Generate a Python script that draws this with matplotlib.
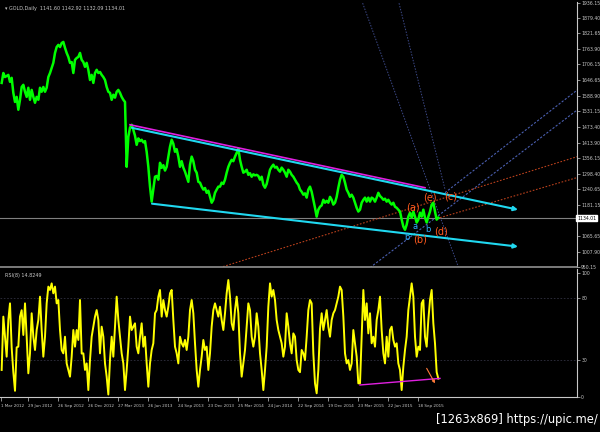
import numpy as np
import matplotlib.pyplot as plt

# GOLD daily closes, one sample every ~3 trading days
close = [1637, 1674, 1659, 1663, 1667, 1641, 1656, 1600, 1566, 1585,
         1537, 1574, 1622, 1630, 1604, 1585, 1619, 1574, 1611, 1585,
         1563, 1585, 1574, 1619, 1604, 1622, 1604, 1619, 1659, 1674,
         1693, 1712, 1749, 1771, 1779, 1771, 1786, 1790, 1768, 1749,
         1734, 1712, 1715, 1674, 1723, 1730, 1734, 1749, 1723, 1715,
         1697, 1712, 1686, 1648, 1667, 1637, 1674, 1686, 1674, 1678,
         1667, 1659, 1648, 1622, 1604, 1600, 1574, 1593, 1582, 1604,
         1611, 1600, 1585, 1574, 1566, 1324, 1436, 1470, 1481, 1462,
         1440, 1406, 1430, 1420, 1425, 1415, 1420, 1380, 1324, 1250,
         1194, 1239, 1287, 1290, 1276, 1339, 1320, 1330, 1310, 1324,
         1362, 1399, 1425, 1410, 1380, 1390, 1362, 1324, 1345, 1321,
         1306, 1287, 1268, 1332, 1362, 1345, 1313, 1302, 1268, 1265,
         1250, 1239, 1245, 1227, 1235, 1212, 1190, 1201, 1227, 1239,
         1250, 1250, 1265, 1260, 1276, 1302, 1324, 1339, 1350, 1345,
         1362, 1376, 1392, 1350, 1324, 1302, 1306, 1313, 1294, 1300,
         1287, 1296, 1292, 1294, 1290, 1276, 1287, 1257, 1246, 1260,
         1287, 1313, 1324, 1332, 1321, 1324, 1313, 1306, 1321, 1313,
         1302, 1287, 1313, 1306, 1294, 1287, 1276, 1265, 1257, 1239,
         1231, 1220, 1225, 1209, 1239, 1250, 1231, 1201, 1171, 1138,
         1164, 1175, 1180, 1201, 1190, 1197, 1190, 1212, 1201, 1183,
         1190, 1212, 1246, 1276, 1294, 1287, 1265, 1239, 1227, 1212,
         1220, 1209, 1190, 1171, 1157, 1164, 1190, 1201, 1209, 1194,
         1209, 1194, 1209, 1205, 1194, 1209, 1227, 1215, 1209, 1201,
         1205, 1194, 1201, 1190, 1183, 1190, 1175, 1171, 1164, 1157,
         1127, 1101, 1089, 1108, 1138, 1153, 1134, 1157, 1138, 1116,
         1127, 1153, 1138, 1164, 1134, 1116, 1138, 1157, 1183, 1190,
         1157, 1127, 1134]

rsi = [21.8, 64.8, 48.6, 32.5, 62.1, 75.5, 40, 20, 5, 40,
       40.6, 64.8, 70, 50, 75.5, 48.6, 19.1, 35.2, 67.5, 48.6,
       37.9, 54.0, 62.1, 80.9, 54.0, 32.5, 48.6, 75.5, 89.0, 86.3,
       91.6, 83.6, 89.0, 75.5, 78.2, 54.0, 37.9, 35.2, 48.6, 27.1,
       21.8, 16.4, 32.5, 54.0, 40.6, 54.0, 46.0, 78.2, 35, 35.2,
       21.8, 27.1, 5.6, 29.8, 48.6, 56.7, 64.8, 70.1, 62.1, 35.2,
       56.7, 48.6, 27.1, 16.4, 2, 30, 48.6, 32.5, 56.7, 80.9,
       62.1, 48.6, 35.2, 27.1, 5.6, 21.8, 40.6, 64.8, 54.0, 56.7,
       59.4, 40.6, 35.2, 48.6, 59.4, 40.6, 48.6, 27.1, 8.3, 27.1,
       37.9, 43.3, 67.5, 70.1, 80.9, 86.3, 64.8, 78.2, 70.1, 64.8,
       72.8, 83.6, 86.3, 62.1, 40.6, 35.2, 27.1, 48.6, 43.3, 40.6,
       46.0, 37.9, 48.6, 70.1, 78.2, 67.5, 43.3, 21.8, 8.3, 21.8,
       32.5, 46.0, 37.9, 40.6, 21.8, 35.2, 56.7, 70.1, 75.5, 70.1,
       64.8, 72.8, 62.1, 54.0, 67.5, 83.6, 94.3, 80.9, 59.4, 54.0,
       70.1, 80.9, 67.5, 35.2, 16.4, 27.1, 37.9, 56.7, 75.5, 70.1,
       48.6, 40.6, 48.6, 67.5, 56.7, 35.2, 21.8, 5.6, 21.8, 40.6,
       72.8, 91.6, 80.9, 86.3, 78.2, 62.1, 54.0, 48.6, 43.3, 32.5,
       40.6, 67.5, 56.7, 43.3, 35.2, 51.3, 48.6, 29.8, 21.8, 20,
       37.9, 35.2, 29.8, 48.6, 70.1, 78.2, 75.5, 35.2, 11.0, 3.0,
       21.8, 55, 67.5, 54.0, 62.1, 70.1, 56.7, 48.6, 62.1, 67.5,
       70.1, 75.5, 80.9, 89.0, 86.3, 65, 35.2, 27.1, 29.8, 21.8,
       27.1, 54.0, 43.3, 32.5, 11.0, 11.0, 48.6, 86.3, 62.1, 75.5,
       51.3, 67.5, 43.3, 48.6, 40.6, 62.1, 70.1, 80.9, 54.0, 35.2,
       27.1, 48.6, 32.5, 54.0, 56.7, 46.0, 40.6, 43.3, 27.1, 21.8,
       5.6, 24.4, 37.9, 48.6, 70.1, 80.9, 91.6, 80.9, 48.6, 32.5,
       40.6, 37.9, 75.5, 78.2, 48.6, 40.6, 62.1, 78.2, 86.3, 59.4,
       43.3, 20, 14.8]

price_ticks = [950.15, 1007.90, 1065.65, 1181.15, 1240.65, 1298.40, 1356.15,
               1413.90, 1473.40, 1531.15, 1588.90, 1646.65, 1706.15, 1763.90,
               1821.65, 1879.40, 1936.15]
date_labels = ['1 Mar 2012', '29 Jun 2012', '26 Sep 2012', '26 Dec 2012',
               '27 Mar 2013', '26 Jun 2013', '24 Sep 2013', '23 Dec 2013',
               '25 Mar 2014', '24 Jun 2014', '22 Sep 2014', '19 Dec 2014',
               '23 Mar 2015', '22 Jun 2015', '18 Sep 2015']
last_price = 1134.01

# trend lines: (x0, p0, x1, p1) in sample / price units
upper_channel = (79.2, 1469.5, 310.8, 1164.0)
upper_magenta = (78.0, 1481.0, 255.0, 1246.0)
lower_channel = (91.2, 1186.4, 310.8, 1026.2)
fan_blue = [(267.0, 1227.4, 348.0, 1618.6), (222.0, 947.9, 348.0, 1544.1)]
fan_orange = [(133.8, 951.6, 348.0, 1365.2), (264.0, 1134.2, 348.0, 1287.0)]
steep_blue = [(217.0, 1945.0, 275.0, 950.0), (239.0, 1945.0, 267.0, 1240.0)]
waves_orange = {'(a)': (247.8, 1173), '(b)': (252.0, 1051), '(c)': (270.6, 1212),
                '(d)': (264.4, 1082), '(e)': (258.0, 1208)}
waves_cyan = {'a': (248.8, 1101), 'b': (244.4, 1060), 'b ': (256.6, 1091)}
rsi_trend = (216.0, 9.7, 264.0, 15.0)

BG = 'black'
FG = '#c8c8c8'
CYAN = '#20d8f0'

fig = plt.figure(figsize=(6, 4.32), dpi=100, facecolor=BG)
ax = fig.add_axes([0, 1 - 267 / 432, 577 / 600, 265 / 432], facecolor=BG)
ax2 = fig.add_axes([0, 1 - 397 / 432, 577 / 600, 128 / 432], facecolor=BG)

x = np.arange(1, len(close) + 1)
xr = np.arange(1, len(rsi) + 1)
xmax = 577 * 0.6

ax.axhline(last_price, color='#808080', lw=0.8)
for x0, p0, x1, p1 in fan_blue:
    ax.plot([x0, x1], [p0, p1], color='#4a5fb0', lw=0.8, ls=(0, (2, 1.5)))
for x0, p0, x1, p1 in steep_blue:
    ax.plot([x0, x1], [p0, p1], color='#3d4a8a', lw=0.7, ls=(0, (1.5, 1.5)))
for x0, p0, x1, p1 in fan_orange:
    ax.plot([x0, x1], [p0, p1], color='#b8401c', lw=0.8, ls=(0, (1.5, 1.5)))

ax.plot(x, close, color='#00ff00', lw=1.8)

ax.plot(upper_magenta[::2], upper_magenta[1::2], color='#e020e0', lw=1.2)
for x0, p0, x1, p1 in (upper_channel, lower_channel):
    ax.annotate('', xy=(x1, p1), xytext=(x0, p0),
                arrowprops=dict(arrowstyle='-|>', color=CYAN, lw=1.5,
                                mutation_scale=6, shrinkA=0, shrinkB=0))

for lab, (lx, ly) in waves_orange.items():
    ax.text(lx, ly, lab, color='#ff5a1e', fontsize=7, ha='center', va='center')
for lab, (lx, ly) in waves_cyan.items():
    ax.text(lx, ly, lab.strip(), color='#30b0ff', fontsize=6, ha='center', va='center')

ax.set_xlim(0, xmax)
ax.set_ylim(951.7, 1939)
ax.set_xticks([])
ax.yaxis.tick_right()
ax.set_yticks(price_ticks)
ax.set_yticklabels(['%.2f' % t for t in price_ticks])
ax.tick_params(axis='y', colors=FG, labelsize=3.3, length=2, width=0.5, pad=1)
for s in ['left', 'top']:
    ax.spines[s].set_visible(False)
ax.spines['right'].set_color(FG)
ax.spines['bottom'].set_color('#909090')
ax.spines['bottom'].set_linewidth(1.2)

ax.text(1.0, (last_price - 951.7) / (1939 - 951.7), '%.2f' % last_price,
        transform=ax.transAxes, fontsize=3.3, color='black', va='center',
        ha='left', bbox=dict(boxstyle='square,pad=0.2', fc='white', ec='white'))
ax.text(0.008, 0.985, '\u25be GOLD,Daily  1141.60 1142.92 1132.09 1134.01',
        transform=ax.transAxes, color=FG, fontsize=3.5, va='top', ha='left')

# RSI panel
for lvl in (80, 30):
    ax2.axhline(lvl, color='#303040', lw=0.6, ls=(0, (2, 2)))
ax2.plot(xr, rsi, color='#ffff00', lw=1.4)
ax2.plot(rsi_trend[::2], rsi_trend[1::2], color='#e020e0', lw=1.0)
ax2.annotate('', xy=(261.0, 11.0), xytext=(256.0, 23.1),
             arrowprops=dict(arrowstyle='-|>', color='#ff7a3a', lw=0.8,
                             mutation_scale=4, shrinkA=0, shrinkB=0))
ax2.text(0.008, 0.97, 'RSI(8) 14.8249', transform=ax2.transAxes, color=FG,
         fontsize=3.5, va='top', ha='left')
ax2.set_xlim(0, xmax)
ax2.set_ylim(0, 103.2)
ax2.yaxis.tick_right()
ax2.set_yticks([100, 80, 30, 0])
ax2.set_yticklabels(['100', '80', '30', '0'])
ax2.tick_params(axis='y', colors=FG, labelsize=3.3, length=2, width=0.5, pad=1)
tick_pos = [0.6] + [16.8 + 18 * k for k in range(len(date_labels) - 1)]
ax2.set_xticks(tick_pos)
ax2.set_xticklabels(date_labels, ha='left')
ax2.tick_params(axis='x', colors=FG, labelsize=3.0, length=3, width=0.5,
                pad=2, direction='out')
for s in ['left', 'top']:
    ax2.spines[s].set_visible(False)
ax2.spines['right'].set_color(FG)
ax2.spines['bottom'].set_color(FG)

fig.text(0.997, 0.015, '[1263x869] https://upic.me/', color='white',
         fontsize=8.3, ha='right', va='bottom')

fig.savefig('out.png', dpi=100, facecolor=BG)
